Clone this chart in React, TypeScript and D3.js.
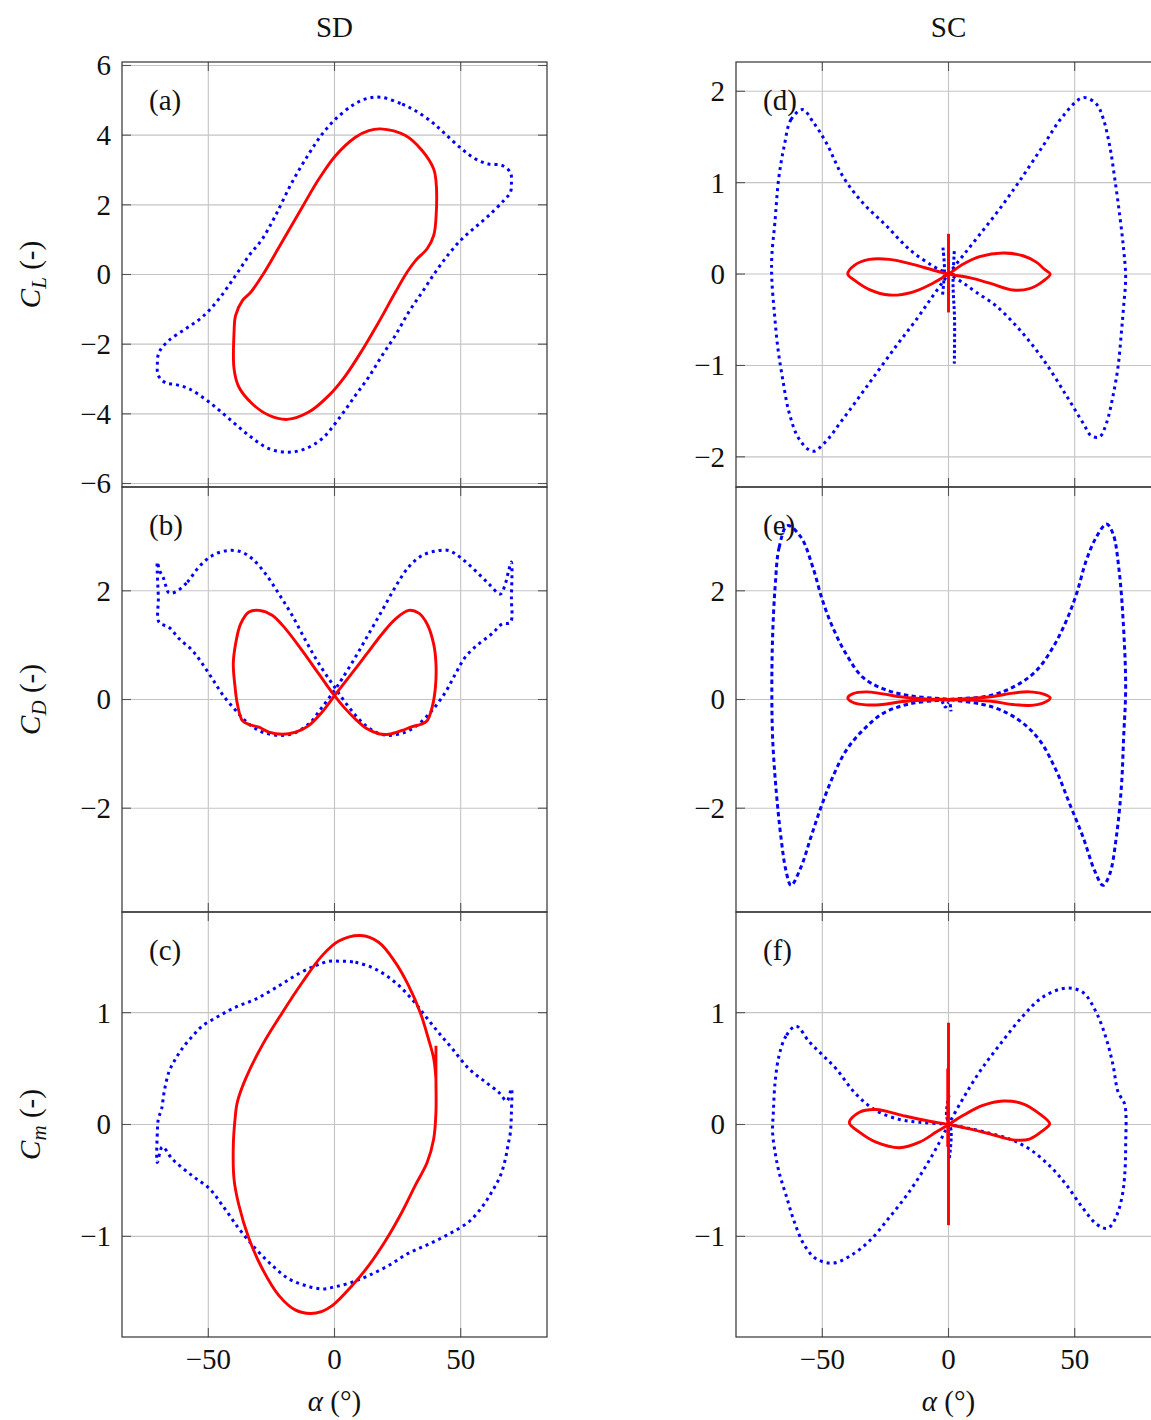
import React, { useEffect, useRef } from 'react'
import * as d3 from 'd3'

type Pt = [number, number]

// ---- data: [alpha (deg), coefficient] ----

// SD column
const sdClSolid: Pt[] = [
  [18.2, 4.18], [28.1, 3.99], [34.7, 3.56], [39.3, 3.03], [40.2, 2.7], [40.2, 1.6], [39.3, 1.12],
  [36.7, 0.74], [32.1, 0.4], [28.8, 0.07], [24.1, -0.51], [17.5, -1.37], [10.9, -2.18], [4.4, -2.9],
  [-2.2, -3.47], [-10.2, -3.95], [-18.7, -4.16], [-26.0, -4.04], [-32.6, -3.71], [-37.9, -3.23],
  [-39.8, -2.71], [-39.8, -1.65], [-39.2, -1.18], [-36.5, -0.75], [-33.2, -0.51], [-28.6, -0.03],
  [-22.0, 0.78], [-12.8, 1.93], [-6.2, 2.74], [0.4, 3.41], [8.3, 3.94], [13.6, 4.13],
]
const sdClDotted: Pt[] = [
  [18.2, 5.09], [26.8, 4.89], [32.1, 4.7], [38.7, 4.37], [43.9, 4.03], [50.5, 3.6], [55.8, 3.32],
  [61.1, 3.17], [66.4, 3.13], [69.7, 2.93], [70.1, 2.65], [69.7, 2.36], [67.0, 2.12], [61.1, 1.69],
  [55.8, 1.36], [50.5, 1.02], [45.3, 0.59], [40.0, 0.07], [34.7, -0.51], [29.4, -1.08], [24.1, -1.75],
  [18.9, -2.32], [13.6, -2.94], [8.3, -3.47], [1.7, -4.14], [-4.9, -4.71], [-11.5, -5.0], [-18.1, -5.1],
  [-26.0, -5.0], [-33.9, -4.62], [-41.8, -4.14], [-49.7, -3.66], [-57.7, -3.28], [-62.9, -3.16],
  [-66.9, -3.11], [-69.8, -2.9], [-70.2, -2.56], [-69.5, -2.23], [-65.6, -1.89], [-59.0, -1.56],
  [-52.4, -1.22], [-45.8, -0.7], [-39.2, -0.03], [-33.9, 0.54], [-28.6, 1.02], [-23.4, 1.69],
  [-16.8, 2.65], [-10.2, 3.46], [-4.9, 4.03], [0.4, 4.46], [7.0, 4.85], [12.3, 5.04],
]
const sdCdSolid: Pt[] = [
  [0, 0.07], [5.7, 0.41], [12.3, 0.81], [18.9, 1.21], [24.1, 1.48], [29.4, 1.64], [33.4, 1.59],
  [36.7, 1.39], [39.3, 1.02], [40.2, 0.66], [40.0, 0.23], [38.7, -0.14], [36.7, -0.39], [34.0, -0.46],
  [30.7, -0.5], [26.8, -0.57], [21.5, -0.64], [17.5, -0.63], [12.9, -0.54], [8.3, -0.36], [3.7, -0.14],
  [0, 0.07], [-6.2, 0.47], [-12.8, 0.9], [-19.4, 1.3], [-24.7, 1.55], [-29.9, 1.64], [-33.9, 1.61],
  [-37.2, 1.39], [-39.2, 1.02], [-40.1, 0.66], [-39.4, 0.23], [-38.5, -0.08], [-36.5, -0.39],
  [-33.9, -0.46], [-29.9, -0.51], [-26.0, -0.6], [-20.7, -0.64], [-15.4, -0.6], [-10.2, -0.48],
  [-4.9, -0.23],
]
const sdCdDotted: Pt[] = [
  [-62.9, 1.98], [-58.3, 2.16], [-53.7, 2.44], [-48.4, 2.65], [-42.5, 2.74], [-37.2, 2.72],
  [-32.6, 2.59], [-27.3, 2.31], [-22.0, 1.94], [-16.8, 1.55], [-11.5, 1.09], [-6.2, 0.66], [0, 0.23],
  [5.7, -0.14], [10.9, -0.42], [16.2, -0.6], [21.5, -0.66], [28.1, -0.6], [33.4, -0.45], [38.7, -0.2],
  [43.9, 0.13], [47.9, 0.47], [51.8, 0.78], [57.1, 1.02], [62.4, 1.21], [66.4, 1.39], [69.7, 1.42],
  [70.1, 1.88], [70.1, 2.53], [69.0, 2.37], [67.7, 2.13], [65.7, 1.94], [61.1, 2.13], [55.8, 2.37],
  [50.5, 2.59], [45.3, 2.74], [40.0, 2.73], [34.7, 2.65], [29.4, 2.44], [24.1, 2.07], [18.9, 1.64],
  [13.6, 1.21], [8.3, 0.78], [3.0, 0.38], [0, 0.17], [-4.9, -0.14], [-10.2, -0.45], [-16.8, -0.63],
  [-22.0, -0.66], [-28.6, -0.6], [-33.9, -0.45], [-39.2, -0.2], [-44.5, 0.1], [-48.4, 0.38],
  [-52.4, 0.66], [-56.3, 0.9], [-61.6, 1.12], [-65.6, 1.33], [-69.5, 1.42], [-69.8, 1.88],
  [-70.2, 2.53], [-69.3, 2.37], [-67.9, 2.25], [-66.9, 2.1], [-65.6, 1.96],
]
const sdCmSolid: Pt[] = [
  [40.2, 0.705], [40.2, 0.41], [40.2, 0.11], [39.3, -0.13], [36.7, -0.34], [32.1, -0.54], [26.8, -0.78],
  [20.2, -1.04], [13.6, -1.26], [7.0, -1.44], [-0.9, -1.62], [-4.9, -1.67], [-9.5, -1.69], [-15.4, -1.66],
  [-22.0, -1.53], [-28.6, -1.29], [-33.9, -1.02], [-37.9, -0.72], [-39.8, -0.49], [-40.1, -0.19],
  [-39.4, 0.05], [-38.5, 0.2], [-35.2, 0.41], [-28.6, 0.71], [-20.7, 1.0], [-12.8, 1.27], [-4.9, 1.51],
  [1.7, 1.64], [10.3, 1.69], [17.5, 1.63], [24.1, 1.45], [29.4, 1.24], [34.0, 1.0], [37.3, 0.76],
  [39.3, 0.59], [40.2, 0.41],
]
const sdCmDotted: Pt[] = [
  [2.4, 1.46], [8.3, 1.45], [16.2, 1.39], [24.1, 1.27], [30.7, 1.12], [36.0, 0.97], [41.3, 0.82],
  [46.6, 0.68], [53.2, 0.5], [59.8, 0.38], [65.0, 0.29], [68.3, 0.21], [70.1, 0.32], [70.1, 0.11],
  [69.7, -0.07], [68.7, -0.19], [67.7, -0.31], [65.7, -0.46], [62.4, -0.6], [58.4, -0.74], [53.2, -0.87],
  [45.3, -0.98], [37.3, -1.07], [29.4, -1.15], [21.5, -1.26], [13.6, -1.35], [7.0, -1.41], [0.4, -1.45],
  [-4.9, -1.47], [-11.5, -1.44], [-18.1, -1.38], [-24.7, -1.26], [-31.3, -1.11], [-37.9, -0.93],
  [-44.5, -0.72], [-49.7, -0.57], [-56.3, -0.46], [-64.2, -0.31], [-68.2, -0.2], [-70.2, -0.34],
  [-70.2, -0.07], [-69.8, 0.05], [-68.5, 0.14], [-67.5, 0.29], [-65.6, 0.47], [-62.9, 0.59],
  [-60.3, 0.68], [-56.3, 0.79], [-52.4, 0.88], [-45.8, 0.97], [-39.2, 1.05], [-31.3, 1.12],
  [-22.0, 1.24], [-14.1, 1.35], [-7.5, 1.42], [-2.2, 1.46],
]

// SC column
const scClSolid: Pt[] = [
  [0, 0], [5.7, 0.106], [12.3, 0.19], [21.6, 0.23], [29.5, 0.2], [34.8, 0.13], [38.1, 0.05], [40.3, 0],
  [37.4, -0.08], [32.1, -0.16], [25.5, -0.175], [16.3, -0.1], [8.3, -0.04], [0, 0], [-6.2, 0.044],
  [-14.2, 0.106], [-23.4, 0.16], [-31.3, 0.16], [-37.3, 0.095], [-39.9, 0], [-37.3, -0.066],
  [-31.3, -0.17], [-23.4, -0.23], [-14.2, -0.197], [-6.2, -0.1],
]
const scClSolidSpike: Pt[] = [[0, 0.44], [0, -0.42]]
const scClDotted: Pt[] = [
  [-57.8, 1.8], [-62.4, 1.69], [-65.1, 1.4], [-67.3, 1.04], [-68.8, 0.56], [-70.0, 0.2], [-70.0, -0.06],
  [-69.0, -0.42], [-67.7, -0.79], [-65.7, -1.15], [-63.1, -1.52], [-59.1, -1.81], [-53.8, -1.94],
  [-49.2, -1.85], [-41.9, -1.59], [-31.3, -1.19], [-20.8, -0.79], [-12.8, -0.5], [-6.2, -0.24], [0, 0],
  [5.7, 0.2], [12.3, 0.43], [20.2, 0.71], [28.2, 1.02], [37.4, 1.4], [45.4, 1.73], [53.3, 1.93],
  [58.6, 1.86], [61.2, 1.71], [63.9, 1.4], [65.9, 1.04], [67.9, 0.63], [69.4, 0.27], [70.2, -0.04],
  [69.4, -0.35], [68.5, -0.64], [67.2, -1.01], [65.2, -1.33], [62.6, -1.63], [59.9, -1.78],
  [56.6, -1.77], [53.3, -1.63], [46.7, -1.33], [37.4, -0.93], [28.2, -0.61], [18.9, -0.35],
  [11.0, -0.2], [5.7, -0.095], [0, 0], [-6.2, 0.088], [-15.5, 0.27], [-24.7, 0.53], [-34.0, 0.78],
  [-41.9, 1.07], [-48.5, 1.44], [-53.8, 1.67],
]
const scClDottedSpikeA: Pt[] = [[2.3, 0.25], [1.8, -0.1], [2.4, -0.5], [2.3, -0.98]]
const scClDottedSpikeB: Pt[] = [[-2.2, 0.29], [-1.6, 0.05], [-2.4, -0.24]]

const scCdSolid: Pt[] = [
  [0, 0], [8.3, 0.018], [17.6, 0.055], [25.5, 0.117], [32.1, 0.141], [37.4, 0.104], [40.3, 0.03],
  [37.4, -0.067], [32.1, -0.11], [25.5, -0.092], [17.6, -0.037], [8.3, -0.012], [0, 0], [-8.9, 0.012],
  [-18.1, 0.043], [-26.1, 0.104], [-32.7, 0.141], [-38.0, 0.104], [-39.9, 0.03], [-38.0, -0.05],
  [-32.7, -0.098], [-26.1, -0.092], [-18.1, -0.037], [-8.9, -0.012],
]
const scCdDotted: Pt[] = [
  [-63.8, 3.2], [-67.1, 2.8], [-68.7, 2.07], [-69.7, 1.15], [-70.0, 0.23], [-69.7, -0.69], [-68.4, -1.61],
  [-66.4, -2.53], [-64.4, -3.15], [-62.4, -3.42], [-58.5, -3.09], [-54.5, -2.53], [-50.5, -1.98],
  [-45.9, -1.43], [-40.6, -0.94], [-34.0, -0.57], [-26.1, -0.26], [-15.5, -0.08], [0, 0], [16.3, 0.07],
  [26.9, 0.26], [34.8, 0.53], [41.4, 0.96], [46.7, 1.45], [50.7, 1.94], [54.6, 2.56], [58.6, 2.99],
  [62.6, 3.23], [65.2, 3.05], [67.6, 2.37], [69.2, 1.45], [70.2, 0.23], [69.4, -0.69], [68.5, -1.61],
  [66.5, -2.53], [63.9, -3.21], [61.2, -3.42], [57.9, -3.15], [53.3, -2.53], [48.0, -1.92],
  [42.7, -1.31], [36.1, -0.75], [28.2, -0.39], [17.6, -0.14], [0, 0], [-15.5, 0.07], [-26.1, 0.2],
  [-34.0, 0.41], [-40.6, 0.84], [-45.9, 1.33], [-49.9, 1.82], [-53.8, 2.44], [-58.5, 2.99],
]
const scCdDottedSpike: Pt[] = [[-2.5, -0.03], [-1.2, -0.14], [0.3, -0.04], [1.0, -0.22]]

const scCmSolid: Pt[] = [
  [0, 0], [5.7, 0.08], [13.6, 0.17], [21.6, 0.21], [29.5, 0.185], [36.1, 0.095], [40.1, 0.006],
  [37.4, -0.054], [32.1, -0.13], [25.5, -0.137], [16.3, -0.083], [8.3, -0.039], [0, 0], [-8.9, 0.036],
  [-18.1, 0.08], [-28.7, 0.134], [-35.3, 0.11], [-39.3, 0.015], [-35.3, -0.068], [-28.7, -0.158],
  [-19.4, -0.208], [-11.5, -0.158], [-4.9, -0.068],
]
const scCmSolidSpike: Pt[] = [[0, 0.91], [0, -0.9]]
const scCmSolidSpikeB: Pt[] = [[-0.3, 0.5], [-0.3, -0.2]]
const scCmDotted: Pt[] = [
  [-60.4, 0.88], [-64.4, 0.79], [-67.1, 0.62], [-68.7, 0.38], [-69.4, 0.11], [-69.7, -0.07],
  [-68.7, -0.25], [-67.1, -0.43], [-64.4, -0.63], [-61.1, -0.87], [-57.1, -1.08], [-52.5, -1.2],
  [-45.9, -1.24], [-39.3, -1.18], [-31.3, -1.04], [-23.4, -0.83], [-15.5, -0.6], [-8.9, -0.37],
  [-3.6, -0.16], [0, 0], [5.7, 0.23], [12.3, 0.47], [20.2, 0.71], [29.5, 0.97], [37.4, 1.14],
  [46.7, 1.22], [53.3, 1.18], [58.6, 1.0], [62.6, 0.76], [65.2, 0.53], [67.2, 0.29], [69.8, 0.18],
  [70.2, -0.19], [69.8, -0.46], [68.9, -0.63], [67.2, -0.78], [64.6, -0.9], [62.6, -0.93],
  [58.6, -0.89], [53.3, -0.75], [46.7, -0.54], [40.1, -0.37], [32.1, -0.22], [24.2, -0.13],
  [14.9, -0.07], [7.0, -0.03], [0, 0], [-11.5, 0.02], [-19.4, 0.045], [-28.7, 0.125], [-36.6, 0.27],
  [-44.6, 0.5], [-49.9, 0.62], [-55.2, 0.74],
]
const scCmDottedSpike: Pt[] = [[0.2, 0.26], [-0.8, 0.08], [1.0, -0.05], [0.3, -0.31]]

// axes
const xTicks = [-50, 0, 50]
const clTicksSD = [-6, -4, -2, 0, 2, 4, 6]
const clTicksSC = [-2, -1, 0, 1, 2]
const cdTicks = [-2, 0, 2]
const cmTicks = [-1, 0, 1]
const colTitles = ['SD', 'SC']
const rowLabels = [['C', 'L'], ['C', 'D'], ['C', 'm']]

const panels = [
  { tag: '(a)', col: 0, row: 0, yDomain: [-6.1, 6.1], yTicks: clTicksSD, solid: [sdClSolid], dotted: [sdClDotted], dash: '3 4', solidOpen: [] as Pt[][], dottedOpen: [] as Pt[][] },
  { tag: '(b)', col: 0, row: 1, yDomain: [-3.91, 3.91], yTicks: cdTicks, solid: [sdCdSolid], dotted: [sdCdDotted], dash: '3 4', solidOpen: [], dottedOpen: [] },
  { tag: '(c)', col: 0, row: 2, yDomain: [-1.9, 1.9], yTicks: cmTicks, solid: [], dotted: [sdCmDotted], dash: '3 4', solidOpen: [sdCmSolid], dottedOpen: [] },
  { tag: '(d)', col: 1, row: 0, yDomain: [-2.33, 2.32], yTicks: clTicksSC, solid: [scClSolid], dotted: [scClDotted], dash: '3 4', solidOpen: [scClSolidSpike], dottedOpen: [scClDottedSpikeA, scClDottedSpikeB] },
  { tag: '(e)', col: 1, row: 1, yDomain: [-3.91, 3.91], yTicks: cdTicks, solid: [scCdSolid], dotted: [scCdDotted], dash: '4.4 3.4', solidOpen: [], dottedOpen: [scCdDottedSpike] },
  { tag: '(f)', col: 1, row: 2, yDomain: [-1.9, 1.9], yTicks: cmTicks, solid: [scCmSolid], dotted: [scCmDotted], dash: '3 4', solidOpen: [scCmSolidSpike, scCmSolidSpikeB], dottedOpen: [scCmDottedSpike] },
]

const colX = [122, 736]
const rowY = [62, 487, 912]
const panelW = 425
const panelH = 425
const FONT = '"Liberation Serif", "Times New Roman", serif'

export default function App() {
  const ref = useRef<SVGSVGElement>(null)

  useEffect(() => {
    const svg = d3.select(ref.current)
    svg.selectAll('*').remove()

    panels.forEach((p) => {
      const x0 = colX[p.col]
      const y0 = rowY[p.row]
      const xScale = d3.scaleLinear().domain([-84.2, 84.2]).range([x0, x0 + panelW])
      const yScale = d3.scaleLinear().domain(p.yDomain).range([y0 + panelH, y0])
      const g = svg.append('g')

      // grid
      g.selectAll('.gx').data(xTicks).join('line')
        .attr('x1', d => xScale(d)).attr('x2', d => xScale(d))
        .attr('y1', y0).attr('y2', y0 + panelH)
        .attr('stroke', '#c4c4c4').attr('stroke-width', 1.1)
      g.selectAll('.gy').data(p.yTicks).join('line')
        .attr('x1', x0).attr('x2', x0 + panelW)
        .attr('y1', d => yScale(d)).attr('y2', d => yScale(d))
        .attr('stroke', '#c4c4c4').attr('stroke-width', 1.1)

      // tick marks inside on all sides
      const tl = 9
      const tickStyle = (sel: any) => sel.attr('stroke', '#555').attr('stroke-width', 1.1)
      p.yTicks.forEach((t) => {
        tickStyle(g.append('line').attr('x1', x0).attr('x2', x0 + tl).attr('y1', yScale(t)).attr('y2', yScale(t)))
        tickStyle(g.append('line').attr('x1', x0 + panelW - tl).attr('x2', x0 + panelW).attr('y1', yScale(t)).attr('y2', yScale(t)))
      })
      xTicks.forEach((t) => {
        tickStyle(g.append('line').attr('x1', xScale(t)).attr('x2', xScale(t)).attr('y1', y0).attr('y2', y0 + tl))
        tickStyle(g.append('line').attr('x1', xScale(t)).attr('x2', xScale(t)).attr('y1', y0 + panelH - tl).attr('y2', y0 + panelH))
      })

      const closedLine = d3.line<Pt>().x(d => xScale(d[0])).y(d => yScale(d[1])).curve(d3.curveCatmullRomClosed.alpha(0.5))
      const openLine = d3.line<Pt>().x(d => xScale(d[0])).y(d => yScale(d[1])).curve(d3.curveCatmullRom.alpha(0.5))

      // blue dotted series
      p.dotted.forEach((s) => {
        g.append('path').attr('d', closedLine(s)).attr('fill', 'none')
          .attr('stroke', '#0000ff').attr('stroke-width', 3).attr('stroke-dasharray', p.dash)
      })
      p.dottedOpen.forEach((s) => {
        g.append('path').attr('d', openLine(s)).attr('fill', 'none')
          .attr('stroke', '#0000ff').attr('stroke-width', 3).attr('stroke-dasharray', '3 2.5')
      })

      // red solid series
      p.solid.forEach((s) => {
        g.append('path').attr('d', closedLine(s)).attr('fill', 'none')
          .attr('stroke', '#ff0000').attr('stroke-width', 2.9).attr('stroke-linejoin', 'round')
      })
      p.solidOpen.forEach((s) => {
        g.append('path').attr('d', openLine(s)).attr('fill', 'none')
          .attr('stroke', '#ff0000').attr('stroke-width', 2.9)
      })

      // frame
      g.append('rect').attr('x', x0).attr('y', y0).attr('width', panelW).attr('height', panelH)
        .attr('fill', 'none').attr('stroke', '#333').attr('stroke-width', 1.2)

      // y tick labels
      g.selectAll('.yl').data(p.yTicks).join('text')
        .attr('x', x0 - 11).attr('y', d => yScale(d)).attr('dy', '0.34em')
        .attr('text-anchor', 'end').attr('font-family', FONT).attr('font-size', 29).attr('fill', '#111')
        .text(d => d3.format('d')(d))

      // panel tag
      g.append('text').attr('x', x0 + 27).attr('y', y0 + 48)
        .attr('font-family', FONT).attr('font-size', 29).attr('fill', '#111').text(p.tag)

      // x tick labels on bottom row
      if (p.row === 2) {
        g.selectAll('.xl').data(xTicks).join('text')
          .attr('x', d => xScale(d)).attr('y', y0 + panelH + 32)
          .attr('text-anchor', 'middle').attr('font-family', FONT).attr('font-size', 29).attr('fill', '#111')
          .text(d => d3.format('d')(d))
        const xl = g.append('text').attr('x', xScale(0)).attr('y', y0 + panelH + 74)
          .attr('text-anchor', 'middle').attr('font-family', FONT).attr('font-size', 29).attr('fill', '#111')
        xl.append('tspan').attr('font-style', 'italic').text('α')
        xl.append('tspan').text(' (°)')
      }
      if (p.row === 0) {
        g.append('text').attr('x', xScale(0)).attr('y', 37)
          .attr('text-anchor', 'middle').attr('font-family', FONT).attr('font-size', 29).attr('fill', '#111')
          .text(colTitles[p.col])
      }
      if (p.col === 0) {
        const [c, sub] = rowLabels[p.row]
        const yl = g.append('text')
          .attr('transform', `translate(40, ${y0 + panelH / 2}) rotate(-90)`)
          .attr('text-anchor', 'middle').attr('font-family', FONT).attr('font-size', 29).attr('fill', '#111')
        yl.append('tspan').attr('font-style', 'italic').text(c)
        yl.append('tspan').attr('font-style', 'italic').attr('font-size', 21).attr('dy', 6).text(sub)
        yl.append('tspan').attr('dy', -6).text(' (-)')
      }
    })
  }, [])

  return (
    <div className='chart-container'>
      <svg ref={ref} width={1151} height={1420}
        style={{ position: 'absolute', left: 0, top: 0, background: '#fff' }} />
    </div>
  )
}
